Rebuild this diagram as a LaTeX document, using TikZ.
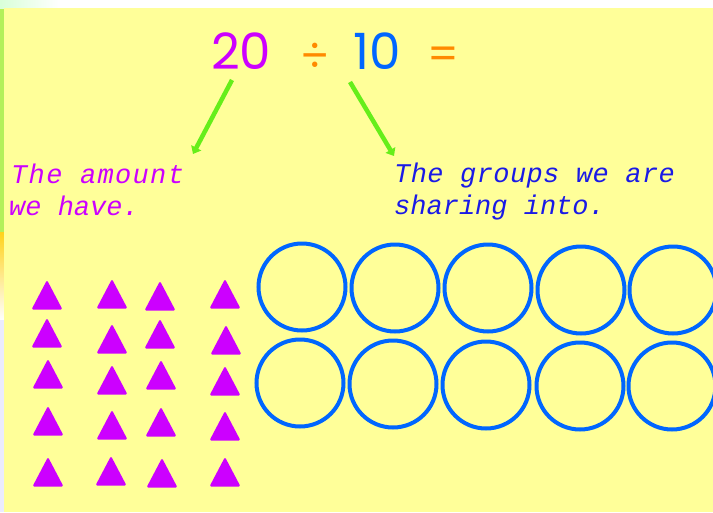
\documentclass[tikz,border=0pt]{standalone}
\usepackage{fontspec}
\setmainfont{Poppins}
\newfontfamily\cursivefont{Liberation Mono}[ItalicFont={Liberation Mono Italic}]
\usetikzlibrary{arrows.meta}
\definecolor{bgyellow}{HTML}{FFFF99}
\definecolor{magentax}{HTML}{CC00FF}
\definecolor{bluenum}{HTML}{0066FF}
\definecolor{bluetext}{HTML}{1A1AE6}
\definecolor{orangex}{HTML}{FF8A00}
\definecolor{greenx}{HTML}{66EE1A}
\definecolor{stripgreen}{HTML}{B4F05A}
\definecolor{stripyellow}{HTML}{FFD21A}
\begin{document}
\begin{tikzpicture}[x=1pt,y=-1pt,
  tri/.style={fill=magentax, rounded corners=1.5pt},
  ring/.style={draw=bluenum, line width=4pt},
  cursive/.style={font=\cursivefont\itshape\fontsize{27}{32}\selectfont, anchor=base west, inner sep=0pt},
  eq/.style={font=\fontsize{50}{50}\selectfont, inner sep=0pt, anchor=base west},
  garrow/.style={draw=greenx, line width=4.5pt, -{Triangle[width=11pt,length=7pt]}}
]
\useasboundingbox (0,0) rectangle (713,512);
\fill[white] (0,0) rectangle (713,512);
% left strip
\fill[stripgreen] (0,8) rectangle (4,232);
\shade[top color=stripyellow, bottom color=white] (0,232) rectangle (4,320);
\fill[white!92!blue] (0,320) rectangle (4,512);
\shade[left color=white!85!green, right color=white] (0,0) rectangle (60,8);
% yellow panel
\fill[bgyellow] (4,8) rectangle (713,512);

% equation
\node[eq, text=magentax] (n20) at (211,69) {20};
\node[eq, text=orangex, font=\fontsize{44}{44}\selectfont] (div) at (300,71) {÷};
\node[eq, text=bluenum] (n10) at (353,69) {10};
\node[eq, text=orangex, font=\fontsize{44}{44}\selectfont] (eqs) at (427,69) {=};

% labels
\node[cursive, text=magentax, font=\cursivefont\itshape\fontsize{27}{32}\selectfont\addfontfeature{LetterSpace=5}] (l1a) at (11,183) {The amount};
\node[cursive, text=magentax] (l1b) at (9,215) {we have.};
\node[cursive, text=bluetext, font=\cursivefont\itshape\fontsize{27}{32}\selectfont\addfontfeature{LetterSpace=1.5}] (l2a) at (394,182) {The groups we are};
\node[cursive, text=bluetext] (l2b) at (394,214) {sharing into.};

% arrows
\coordinate (a1s) at (232,80);
\coordinate (a1e) at (193,154);
\coordinate (a2s) at (350,82);
\coordinate (a2e) at (394,156);
\draw[garrow] (a1s) -- (a1e);
\draw[garrow] (a2s) -- (a2e);

% triangles: column x, apex y
\foreach \x/\y in {47/280, 47/318, 48/359, 48/406, 48/457,
                   112/279, 112/324, 112/365, 112/410, 111/456,
                   160/281, 160/319, 161/360, 161/407, 162/458,
                   225/279, 226/325, 225/366, 225/411, 225/457}{
  \fill[tri] (\x,\y) -- (\x+15.5,\y+29.5) -- (\x-15.5,\y+29.5) -- cycle;
}

% circles
\foreach \x/\y [count=\i] in {302/287, 395/288, 488/288, 581/290, 673/290,
                               300/383, 393/384, 486/385, 580/386, 672/386}{
  \draw[ring] (\x,\y) circle (43.5);
}
\end{tikzpicture}
\end{document}
